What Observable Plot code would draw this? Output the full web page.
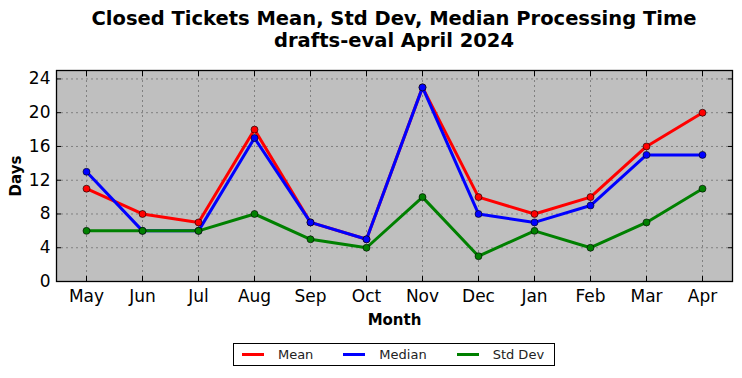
<!DOCTYPE html>
<html>
<head>
<meta charset="utf-8">
<script src="https://cdn.jsdelivr.net/npm/d3@7"></script>
<script src="https://cdn.jsdelivr.net/npm/@observablehq/plot@0.6"></script>
<style>
  body { margin: 0; background: #fff; font-family: "DejaVu Sans", sans-serif; }
  #title { margin-left: 46px; width: 696px; text-align: center; font-weight: bold; font-size: 19.5px; line-height: 22px; padding-top: 8px; height: 52px; color: #000; white-space: nowrap; }
  #legend { margin-left: 46px; width: 696px; display: flex; justify-content: center; margin-top: 2px; }
  #legend .box { border: 1px solid #000; padding: 3px 10px 3px 8px; display: flex; gap: 30px; font-size: 13px; align-items: center; }
  #legend .item { display: flex; align-items: center; gap: 14px; color: #222; }
  #legend .sw { width: 22px; height: 3px; }
</style>
</head>
<body>
<div id="title">Closed Tickets Mean, Std Dev, Median Processing Time<br>drafts-eval April 2024</div>
<div id="chart"></div>
<div id="legend"></div>
<script>
const months = ["May","Jun","Jul","Aug","Sep","Oct","Nov","Dec","Jan","Feb","Mar","Apr"];
const meanValues = [11, 8, 7, 18, 7, 5, 23, 10, 8, 10, 16, 20];
const medianValues = [13, 6, 6, 17, 7, 5, 23, 8, 7, 9, 15, 15];
const stdValues = [6, 6, 6, 8, 5, 4, 10, 3, 6, 4, 7, 11];
const yTicks = [0, 4, 8, 12, 16, 20, 24];
const seriesNames = ["Mean", "Median", "Std Dev"];
const seriesColors = ["#ff0000", "#0000ff", "#008000"];

const seriesValues = [meanValues, medianValues, stdValues];
const rows = [];
seriesNames.forEach((s, i) => months.forEach((m, j) => rows.push({series: s, month: m, value: seriesValues[i][j]})));

const noText = () => "";
const plot = Plot.plot({
  width: 742,
  height: 281,
  marginTop: 10,
  marginBottom: 60,
  marginLeft: 56,
  marginRight: 10,
  style: {fontFamily: "DejaVu Sans", fontSize: "17px", color: "#000", background: "#fff"},
  x: {type: "point", domain: months, padding: 0.5},
  y: {domain: [0, 25], ticks: yTicks},
  color: {domain: seriesNames, range: seriesColors},
  marks: [
    Plot.frame({fill: "#bfbfbf"}),
    Plot.gridX(months, {stroke: "#808080", strokeOpacity: 1, strokeDasharray: "2,3"}),
    Plot.gridY(yTicks, {stroke: "#808080", strokeOpacity: 1, strokeDasharray: "2,3"}),
    Plot.axisX({anchor: "bottom", tickSize: 0, tickPadding: 8, label: null, fontSize: 17}),
    Plot.axisY(yTicks, {anchor: "left", tickSize: 0, tickPadding: 6, label: null, fontSize: 17}),
    Plot.axisX({anchor: "bottom", tickSize: 5, dy: -5, tickFormat: noText, label: null, strokeOpacity: 1}),
    Plot.axisX({anchor: "top", tickSize: 5, dy: 5, tickFormat: noText, label: null, strokeOpacity: 1}),
    Plot.axisY(yTicks, {anchor: "left", tickSize: 5, dx: 5, tickFormat: noText, label: null, strokeOpacity: 1}),
    Plot.axisY(yTicks, {anchor: "right", tickSize: 5, dx: -5, tickFormat: noText, label: null, strokeOpacity: 1}),
    Plot.line(rows, {x: "month", y: "value", z: "series", stroke: "series", strokeWidth: 3}),
    Plot.dot(rows, {x: "month", y: "value", fill: "series", stroke: "#000", strokeWidth: 0.6, r: 3.5}),
    Plot.frame({stroke: "#000", strokeWidth: 1.3}),
    Plot.text(["Month"], {frameAnchor: "bottom", dy: 39, fontWeight: "bold", fontSize: 15, lineAnchor: "middle", textAnchor: "middle"}),
    Plot.text(["Days"], {frameAnchor: "left", dx: -40, rotate: -90, fontWeight: "bold", fontSize: 15, textAnchor: "middle", lineAnchor: "middle"})
  ]
});
document.getElementById("chart").appendChild(plot);

const legend = document.getElementById("legend");
const box = document.createElement("div");
box.className = "box";
seriesNames.forEach((s, i) => {
  const it = document.createElement("div");
  it.className = "item";
  const sw = document.createElement("div");
  sw.className = "sw";
  sw.style.background = seriesColors[i];
  const lb = document.createElement("span");
  lb.textContent = s;
  it.appendChild(sw); it.appendChild(lb);
  box.appendChild(it);
});
legend.appendChild(box);
</script>
</body>
</html>
